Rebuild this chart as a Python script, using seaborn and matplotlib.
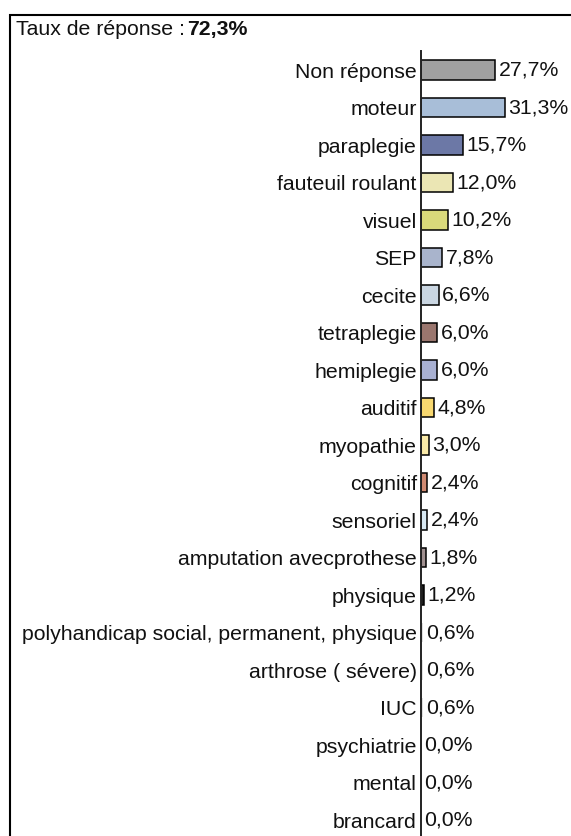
import matplotlib
matplotlib.use("Agg")
import matplotlib.pyplot as plt
import seaborn as sns
import pandas as pd
from matplotlib.patches import Rectangle

categories = ["Non réponse", "moteur", "paraplegie", "fauteuil roulant", "visuel",
              "SEP", "cecite", "tetraplegie", "hemiplegie", "auditif", "myopathie",
              "cognitif", "sensoriel", "amputation avecprothese", "physique",
              "polyhandicap social, permanent, physique", "arthrose ( sévere)",
              "IUC", "psychiatrie", "mental", "brancard"]
values = [27.7, 31.3, 15.7, 12.0, 10.2, 7.8, 6.6, 6.0, 6.0, 4.8, 3.0,
          2.4, 2.4, 1.8, 1.2, 0.6, 0.6, 0.6, 0.0, 0.0, 0.0]
colors = ["#a0a0a0", "#a8bed8", "#6c78a6", "#ebe6b4", "#d9d97a",
          "#a9b4cc", "#cad6e2", "#9a766e", "#a8b0d2", "#f8d870", "#faeaa8",
          "#d08a72", "#d8e8f2", "#a09090", "#1e1e1e",
          "#e0e0e0", "#e0e0e0", "#e0e0e0", "#e0e0e0", "#e0e0e0", "#e0e0e0"]
title_plain = "Taux de réponse :"
title_bold = "72,3%"

sns.set_theme(style="white")
plt.rcParams["font.family"] = ["Liberation Sans", "DejaVu Sans"]

FS = 15.3
W, H = 571, 836
fig = plt.figure(figsize=(W / 100, H / 100), dpi=100)

ax_left = 421
ax_w = 145
row = 37.5
top_center = 70
n = len(categories)
ax_top = top_center - row / 2
ax_bottom = ax_top + row * n
ax = fig.add_axes([ax_left / W, 1 - ax_bottom / H, ax_w / W, (ax_bottom - ax_top) / H])

df = pd.DataFrame({"cat": categories, "val": values})
sns.barplot(data=df, x="val", y="cat", hue="cat", palette=colors, legend=False,
            orient="h", width=0.53, saturation=1, edgecolor="black",
            linewidth=1.1, ax=ax)

# very small bars show no outline in the reference
for patch, v in zip(ax.patches, values):
    if v < 1:
        patch.set_linewidth(0)

px_per_pct = 2.68
ax.set_xlim(0, ax_w / px_per_pct)
ax.set_ylim(n - 0.5, -0.5)

for i, v in enumerate(values):
    ax.annotate(f"{v:.1f}%".replace(".", ","), xy=(v, i), xytext=(2.5, 0),
                textcoords="offset points", va="center", ha="left",
                fontsize=FS, color="#111111")

ax.set_xlabel("")
ax.set_ylabel("")
ax.set_xticks([])
ax.tick_params(axis="y", length=0, pad=3, labelsize=FS, labelcolor="#111111")
for s in ["top", "right", "bottom"]:
    ax.spines[s].set_visible(False)
ax.spines["left"].set_color("#222222")
ax.spines["left"].set_linewidth(1.4)
ax.set_facecolor("none")

fig.patches.append(Rectangle((10 / W, -0.05), 1.0, 1 - 15 / H + 0.05,
                             transform=fig.transFigure, fill=False,
                             edgecolor="black", linewidth=1.5, clip_on=False))

t1 = fig.text(16 / W, 1 - 35 / H, title_plain, fontsize=FS, color="#111111",
              ha="left", va="baseline")
fig.canvas.draw()
bb = t1.get_window_extent()
fig.text((bb.x1 + 2) / W, 1 - 35 / H, title_bold, fontsize=FS, fontweight="bold",
         color="#111111", ha="left", va="baseline")

fig.savefig("out.png", dpi=100)
